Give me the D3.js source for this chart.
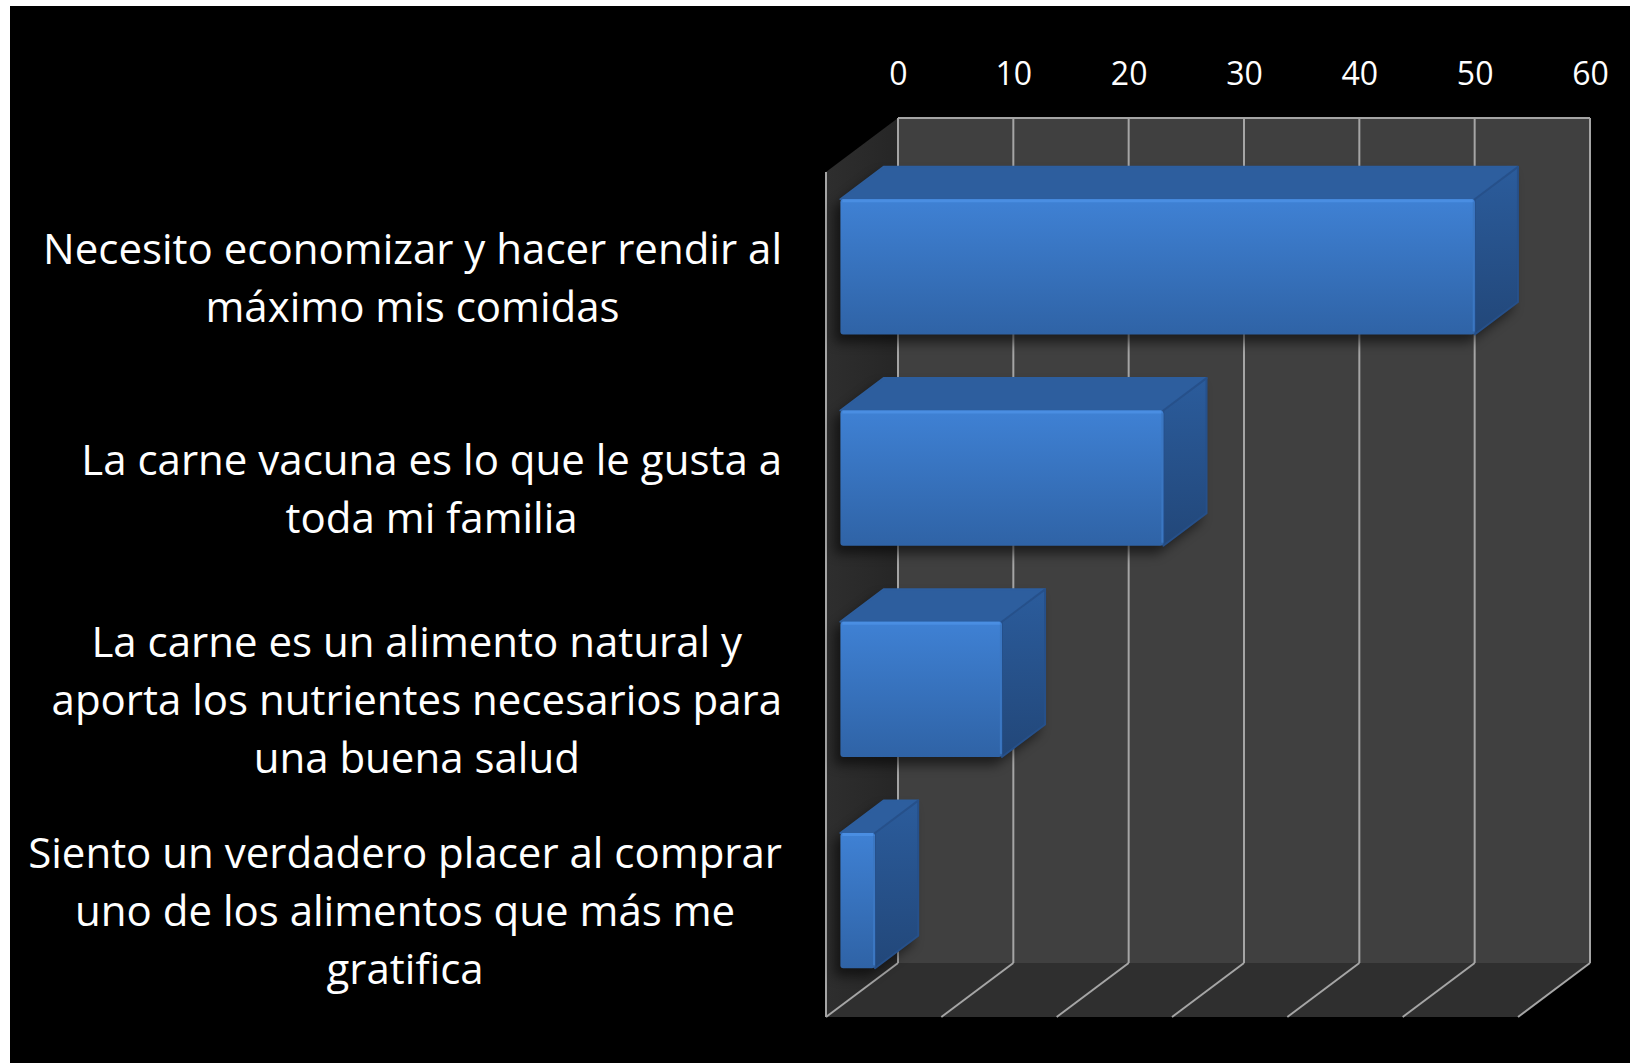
<!DOCTYPE html>
<html>
<head>
<meta charset="utf-8">
<script src="https://cdn.jsdelivr.net/npm/d3@7"></script>
<style>
  html, body { margin: 0; padding: 0; background: #fff; }
  svg { display: block; }
</style>
</head>
<body>
<script>
// data
var categories = [
  "Necesito economizar y hacer rendir al\nmáximo mis comidas",
  "La carne vacuna es lo que le gusta a\ntoda mi familia",
  "La carne es un alimento natural y\naporta los nutrientes necesarios para\nuna buena salud",
  "Siento un verdadero placer al comprar\nuno de los alimentos que más me\ngratifica"
];
var values = [55, 28, 14, 3];
var tickValues = [0, 10, 20, 30, 40, 50, 60];

var W = 1630, H = 1063;
var DX = 72, DY = 54;         // depth offset of the 3d box
var zBack = 0.2, zFront = 0.8; // bar depth inside the box

var svg = d3.select('body').append('svg')
    .attr('width', W)
    .attr('height', H);

var defs = svg.append('defs');

var gFront = defs.append('linearGradient').attr('id', 'gFront')
    .attr('x1', 0).attr('y1', 0).attr('x2', 0).attr('y2', 1);
gFront.append('stop').attr('offset', '0%').attr('stop-color', '#3f81d4');
gFront.append('stop').attr('offset', '100%').attr('stop-color', '#2f63a6');

var gSide = defs.append('linearGradient').attr('id', 'gSide')
    .attr('x1', 0).attr('y1', 0).attr('x2', 0).attr('y2', 1);
gSide.append('stop').attr('offset', '0%').attr('stop-color', '#2b5c9c');
gSide.append('stop').attr('offset', '100%').attr('stop-color', '#224779');

var gLeft = defs.append('linearGradient').attr('id', 'gLeft')
    .attr('x1', 0).attr('y1', 0).attr('x2', 1).attr('y2', 0);
gLeft.append('stop').attr('offset', '0%').attr('stop-color', '#2e2e2e');
gLeft.append('stop').attr('offset', '100%').attr('stop-color', '#262626');

defs.append('filter').attr('id', 'blur')
    .attr('x', '-20%').attr('y', '-20%').attr('width', '140%').attr('height', '140%')
  .append('feGaussianBlur').attr('stdDeviation', 6);

// background
svg.append('rect')
    .attr('x', 10).attr('y', 6)
    .attr('width', W - 10).attr('height', H - 6)
    .attr('fill', '#000');

// scales (back wall coordinates)
var x = d3.scaleLinear().domain([0, 60]).range([898, 1590]);
var y = d3.scaleBand().domain(categories).range([118, 963])
    .paddingInner(0.36).paddingOuter(0.18);

var yTop = y.range()[0], yBot = y.range()[1];

function P(v, u, z) {
  return [x(v) - z * DX, u + z * DY];
}
function poly(pts) {
  return pts.map(function(p) { return p.join(','); }).join(' ');
}

// walls
svg.append('polygon')
    .attr('points', poly([[x(0), yTop], [x(60), yTop], [x(60), yBot], [x(0), yBot]]))
    .attr('fill', '#404040');

svg.append('polygon')
    .attr('points', poly([P(0, yTop, 1), P(0, yTop, 0), P(0, yBot, 0), P(0, yBot, 1)]))
    .attr('fill', 'url(#gLeft)');

svg.append('polygon')
    .attr('points', poly([P(0, yBot, 0), P(60, yBot, 0), P(60, yBot, 1), P(0, yBot, 1)]))
    .attr('fill', '#2f2f2f');

// gridlines
var grid = svg.append('g')
    .attr('stroke', '#a5a5a5')
    .attr('stroke-width', 2)
    .attr('fill', 'none');

grid.selectAll('line.v')
    .data(tickValues)
  .enter().append('line')
    .attr('class', 'v')
    .attr('x1', function(d) { return x(d); })
    .attr('x2', function(d) { return x(d); })
    .attr('y1', yTop)
    .attr('y2', yBot);

grid.selectAll('line.f')
    .data(tickValues)
  .enter().append('line')
    .attr('class', 'f')
    .attr('x1', function(d) { return P(d, yBot, 0)[0]; })
    .attr('y1', function(d) { return P(d, yBot, 0)[1]; })
    .attr('x2', function(d) { return P(d, yBot, 1)[0]; })
    .attr('y2', function(d) { return P(d, yBot, 1)[1]; });

grid.append('line')
    .attr('x1', x(0)).attr('x2', x(60))
    .attr('y1', yTop).attr('y2', yTop);

grid.append('line')
    .attr('x1', P(0, yTop, 1)[0]).attr('x2', P(0, yBot, 1)[0])
    .attr('y1', P(0, yTop, 1)[1]).attr('y2', P(0, yBot, 1)[1]);

// bars
var data = categories.map(function(c, i) { return { cat: c, value: values[i] }; });

var bars = svg.selectAll('g.bar')
    .data(data)
  .enter().append('g')
    .attr('class', 'bar');

// soft shadow
bars.append('polygon')
    .attr('points', function(d) {
      var u0 = y(d.cat), u1 = u0 + y.bandwidth();
      return poly([P(0, u0, zFront), P(0, u0, zBack), P(d.value, u0, zBack),
                   P(d.value, u1, zBack), P(d.value, u1, zFront), P(0, u1, zFront)]);
    })
    .attr('transform', 'translate(-6,8)')
    .attr('fill', '#000')
    .attr('opacity', 0.55)
    .attr('filter', 'url(#blur)');

// top face
bars.append('polygon')
    .attr('points', function(d) {
      var u0 = y(d.cat);
      return poly([P(0, u0, zFront), P(0, u0, zBack), P(d.value, u0, zBack), P(d.value, u0, zFront)]);
    })
    .attr('fill', '#2d5e9e')
    .attr('stroke', '#2d5e9e')
    .attr('stroke-linejoin', 'round')
    .attr('stroke-width', 2);

// side face
bars.append('polygon')
    .attr('points', function(d) {
      var u0 = y(d.cat), u1 = u0 + y.bandwidth();
      return poly([P(d.value, u0, zFront), P(d.value, u0, zBack), P(d.value, u1, zBack), P(d.value, u1, zFront)]);
    })
    .attr('fill', 'url(#gSide)')
    .attr('stroke', '#26508a')
    .attr('stroke-linejoin', 'round')
    .attr('stroke-width', 2);

// front face
bars.append('rect')
    .attr('x', function(d) { return P(0, 0, zFront)[0]; })
    .attr('y', function(d) { return P(0, y(d.cat), zFront)[1]; })
    .attr('width', function(d) { return x(d.value) - x(0); })
    .attr('height', y.bandwidth())
    .attr('rx', 3)
    .attr('fill', 'url(#gFront)');

// bevel highlights
bars.append('line')
    .attr('x1', function(d) { return P(0, 0, zFront)[0] + 2; })
    .attr('x2', function(d) { return P(d.value, 0, zFront)[0] - 2; })
    .attr('y1', function(d) { return P(0, y(d.cat), zFront)[1] + 1.5; })
    .attr('y2', function(d) { return P(0, y(d.cat), zFront)[1] + 1.5; })
    .attr('stroke', '#4a8ee2')
    .attr('stroke-width', 3);

bars.append('line')
    .attr('x1', function(d) { return P(d.value, 0, zFront)[0] - 1; })
    .attr('x2', function(d) { return P(d.value, 0, zFront)[0] - 1; })
    .attr('y1', function(d) { return P(0, y(d.cat), zFront)[1] + 3; })
    .attr('y2', function(d) { return P(0, y(d.cat) + y.bandwidth(), zFront)[1] - 3; })
    .attr('stroke', '#3b77c2')
    .attr('stroke-width', 2);

// value axis on top
var axis = svg.append('g')
    .attr('transform', 'translate(0,85)')
    .call(d3.axisTop(x).tickValues(tickValues).tickSize(0).tickPadding(0));
axis.select('.domain').remove();
axis.selectAll('text')
    .attr('fill', '#fff')
    .style('font-family', '"Open Sans", sans-serif')
    .style('font-size', '32px');

// category labels
var labelRight = 782, lineH = 58;

var labels = svg.selectAll('text.cat')
    .data(categories)
  .enter().append('text')
    .attr('class', 'cat')
    .attr('fill', '#fff')
    .attr('text-anchor', 'middle')
    .style('font-family', '"Open Sans", sans-serif')
    .style('font-size', '42px');

labels.each(function(c) {
  var el = d3.select(this);
  var lines = c.split('\n');
  var cy = y(c) + y.bandwidth() / 2 + DY;
  var t0 = cy - (lines.length - 1) * lineH / 2;
  lines.forEach(function(s, i) {
    el.append('tspan')
        .attr('y', t0 + i * lineH)
        .attr('dy', '0.36em')
        .text(s);
  });
  var maxW = 0;
  el.selectAll('tspan').each(function() {
    maxW = Math.max(maxW, this.getComputedTextLength());
  });
  el.selectAll('tspan').attr('x', labelRight - maxW / 2);
});
</script>
</body>
</html>
